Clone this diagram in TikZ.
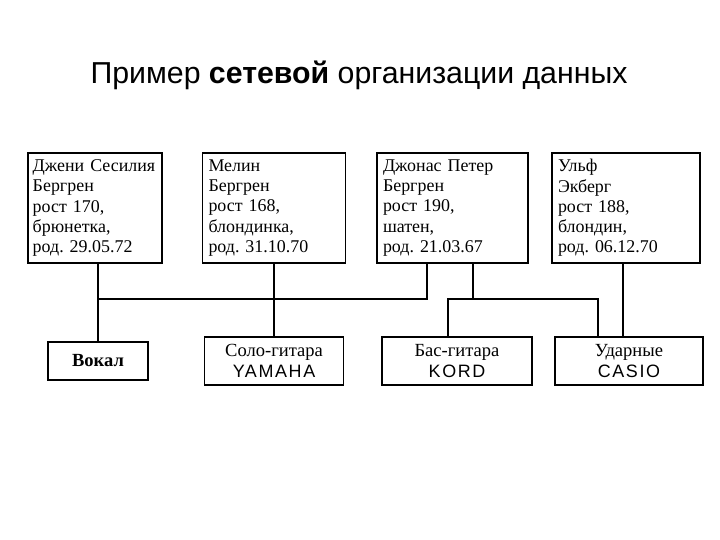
\documentclass[tikz,border=0pt]{standalone}
\usepackage{fontspec}
\setmainfont{Liberation Serif}
\newfontfamily\titlefont{Liberation Sans}
\newfontfamily\brandfont[LetterSpace=9]{Liberation Sans}
\newcommand\brandname[1]{{\brandfont\fontsize{18}{20}\selectfont #1}}
\usetikzlibrary{positioning}

\begin{document}
\frenchspacing
\begin{tikzpicture}[x=1bp, y=-1bp, line width=2bp,
                    card/.style={draw, line width=1.8bp, align=left, inner sep=0pt,
                                 minimum height=110bp, font=\fontsize{18}{20.3}\selectfont},
                    role/.style={draw, line width=1.8bp, align=center, inner sep=0pt,
                                 minimum height=48bp, font=\fontsize{18.6}{21}\selectfont}]
  \useasboundingbox (0,0) rectangle (720,540);
  \node[anchor=base, font=\titlefont\fontsize{30.4}{32}\selectfont] (title) at (359,84)
    {Пример \textbf{сетевой} организации данных};
  % members
  \node[card, minimum width=134bp, text width=124.5bp] (dzheni) at (95,208)
    {Джени Сесилия\\Бергрен\\рост 170,\\брюнетка,\\род. 29.05.72};
  \node[card, minimum width=143bp, text width=131bp] (melin) at (274,208)
    {Мелин\\Бергрен\\рост 168,\\блондинка,\\род. 31.10.70};
  \node[card, minimum width=151bp, text width=139bp] (dzhonas) at (452.5,208)
    {Джонас Петер\\Бергрен\\рост 190,\\шатен,\\род. 21.03.67};
  \node[card, minimum width=148bp, text width=136bp] (ulf) at (626,208)
    {Ульф\\Экберг\\рост 188,\\блондин,\\род. 06.12.70};
  % roles
  \node[role, minimum width=100bp, minimum height=38bp] (vokal) at (98,361) {\textbf{Вокал}};
  \node[role, minimum width=139bp] (solo) at (274,361) {Соло-гитара\\\brandname{YAMAHA}};
  \node[role, minimum width=150bp] (bas) at (457,361) {Бас-гитара\\\brandname{KORD}};
  \node[role, minimum width=148bp] (udarnye) at (629,361) {Ударные\\\brandname{CASIO}};
  % links
  \coordinate (busL) at (98,299);
  \coordinate (busR) at (427,299);
  \coordinate (forkM) at (473,299);
  \coordinate (forkL) at (448,299);
  \coordinate (forkR) at (598,299);
  \coordinate (ulfx) at (623,0);
  \draw (dzheni.south -| busL) -- (vokal.north);
  \draw (busL) -- (busR) -- (busR |- dzhonas.south);
  \draw (melin.south) -- (solo.north);
  \draw (dzhonas.south -| forkM) -- (forkM);
  \draw (bas.north -| forkL) -- (forkL) -- (forkR) -- (udarnye.north -| forkR);
  \draw (ulf.south -| ulfx) -- (udarnye.north -| ulfx);
\end{tikzpicture}
\end{document}
